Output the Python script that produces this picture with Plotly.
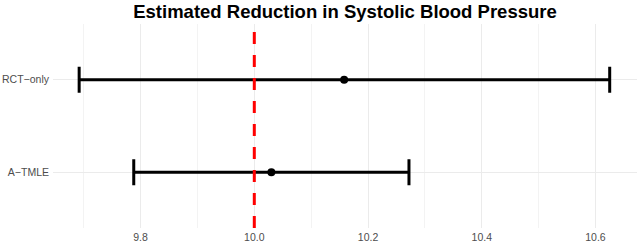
import plotly.graph_objects as go

methods = ["A−TMLE", "RCT−only"]
estimates = [10.03, 10.158]
lower = [9.788, 9.692]
upper = [10.272, 10.625]
reference_value = 10.0
x_ticks = [9.8, 10.0, 10.2, 10.4, 10.6]
x_tick_labels = ["9.8", "10.0", "10.2", "10.4", "10.6"]

err_plus = [u - e for u, e in zip(upper, estimates)]
err_minus = [e - l for e, l in zip(estimates, lower)]

fig = go.Figure()
fig.add_trace(go.Scatter(
    x=estimates, y=methods, mode="markers",
    marker=dict(color="black", size=8),
    error_x=dict(type="data", symmetric=False, array=err_plus, arrayminus=err_minus,
                 color="black", thickness=3, width=13),
    showlegend=False, hoverinfo="skip",
))

fig.add_shape(type="line", xref="x", yref="paper", x0=reference_value, x1=reference_value,
              y0=0, y1=1, line=dict(color="#FF0000", width=3, dash="12px,11px"), layer="above")

fig.update_layout(
    width=640, height=243,
    margin=dict(l=53, r=3, t=24, b=15, autoexpand=False),
    paper_bgcolor="white", plot_bgcolor="white",
    font=dict(family="Liberation Sans, Arial, sans-serif", color="#4D4D4D", size=10.5),
    title=dict(text="<b>Estimated Reduction in Systolic Blood Pressure</b>",
               x=0.5, xref="paper", xanchor="center",
               y=1 - 12/243, yref="container", yanchor="middle",
               font=dict(size=18.5, color="black", family="Liberation Sans, Arial, sans-serif")),
    xaxis=dict(range=[9.646, 10.673], tickvals=x_ticks, ticktext=x_tick_labels,
               showgrid=True, gridcolor="#EBEBEB", gridwidth=1.1, zeroline=False,
               showline=False, ticks="", ticklabelstandoff=1, automargin=False,
               minor=dict(dtick=0.1, tick0=9.7, showgrid=True, gridcolor="#F3F3F3", gridwidth=0.8)),
    yaxis=dict(type="category", categoryorder="array", categoryarray=methods,
               range=[-0.6, 1.6], showgrid=True, gridcolor="#EBEBEB", gridwidth=1.1,
               zeroline=False, showline=False, ticks="", ticklabelstandoff=3, automargin=False),
)

fig.write_html("out.html", config={"displayModeBar": False},
               post_script="document.body.style.margin='0';document.body.style.overflow='hidden';")
